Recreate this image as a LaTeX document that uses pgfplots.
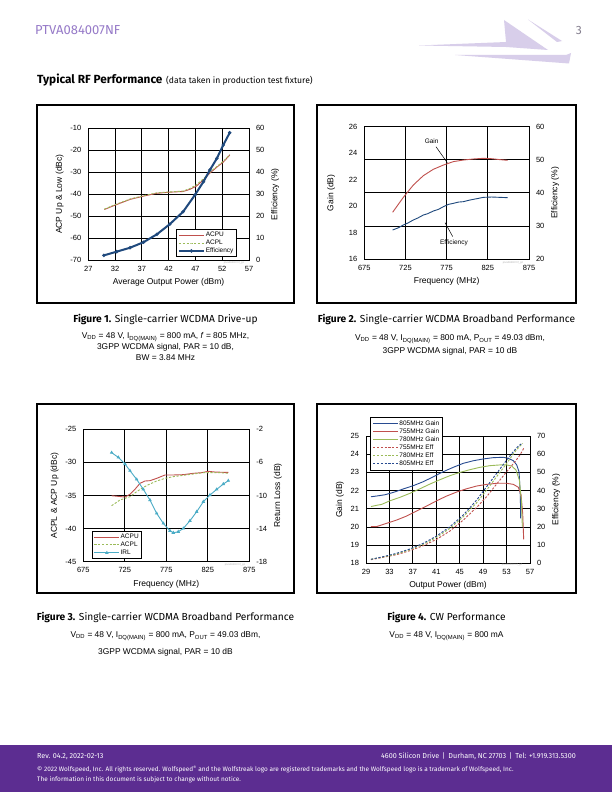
\documentclass[border=0pt]{standalone}
\usepackage{pgfplots}
\pgfplotsset{compat=1.18}
\usepackage{fontspec}
\setmainfont{Fira Sans}
\newfontfamily\arial{Liberation Sans}
\newcommand{\fs}[2]{\fontsize{#1bp}{#2bp}\selectfont}
\definecolor{wsred}{RGB}{192,80,77}
\definecolor{wsgreen}{RGB}{155,187,89}
\definecolor{wsblue}{RGB}{31,73,125}
\definecolor{wsblue2}{RGB}{40,75,145}
\definecolor{wscyan}{RGB}{75,172,198}
\definecolor{wspurple}{RGB}{92,45,145}
\definecolor{wslav}{RGB}{216,206,234}
\definecolor{wshead}{RGB}{150,122,200}
\pgfplotsset{
  ws/.style={
    scale only axis, anchor=north west,
    tick label style={font=\arial\fs{7.5}{9}},
    label style={font=\arial\fs{8.5}{10}},
    axis line style={black, line width=0.8bp},
    major grid style={black, line width=0.8bp},
    major tick length=0pt,
    xticklabel shift=2.5bp, yticklabel shift=3.5bp,
    legend cell align=left,
    legend style={font=\arial\fs{6.5}{7.5}, draw=black, line width=0.5bp, fill=white,
      inner sep=2bp, anchor=north west, row sep=0.3bp,
      nodes={inner sep=0.8bp, text height=4.7bp, text depth=1.3bp}},
    legend image code/.code={\draw[mark repeat=2,mark phase=2,##1] plot coordinates {(0bp,0bp)(12.5bp,0bp)(25bp,0bp)};},
  },
  wsdash/.style={dash pattern=on 2.2bp off 1.6bp},
}
\begin{document}
\begin{tikzpicture}[x=1bp,y=1bp]
\path[use as bounding box] (0,0) rectangle (612,-792);
\fill[white] (0,0) rectangle (612,-792);

% ---------- header ----------
\node[anchor=west, text=wshead, font=\fs{13}{15}, inner sep=0] at (35,-30) {PTVA084007NF};
\node[anchor=east, text=gray!80!wshead, font=\fs{12}{14}, inner sep=0] at (582,-30) {3};
\fill[wslav] (419,-45.5) -- (506,-42) -- (504,-20) -- (548,-50) -- (506,-47) -- cycle;
\fill[wslav] (528,-19.5) -- (562,-41) -- (557,-42) -- cycle;
\fill[wslav] (455,-55) -- (566,-55) -- (571,-53) -- (569,-63.5) -- cycle;
\node[anchor=west, font=\bfseries\fs{11.8}{13}, inner sep=0] at (37,-80) {Typical RF Performance};
\node[anchor=west, font=\fs{8.6}{10}, inner sep=0] at (166,-80.5) {(data taken in production test fixture)};

% ---------- frames ----------
\draw[black, line width=1.1bp] (37,-105) rectangle (294,-303);
\draw[black, line width=1.1bp] (317,-105) rectangle (576,-303);
\draw[black, line width=1.1bp] (37,-404) rectangle (294,-593);
\draw[black, line width=1.1bp] (317,-404) rectangle (576,-593);

% ---------- Chart 1 ----------
\begin{axis}[ws, at={(88.3bp,-128.3bp)}, width=160.7bp, height=131.7bp,
  xmin=27, xmax=57, ymin=-70, ymax=-10,
  xtick={27,32,37,42,47,52,57}, xticklabels={27,32,37,42,47,52,57},
  ytick={-70,-60,-50,-40,-30,-20,-10}, yticklabels={-70,-60,-50,-40,-30,-20,-10},
  grid=major,
  xlabel={Average Output Power (dBm)}, ylabel={ACP Up \& Low (dBc)}]
\addplot[wsred, line width=0.9bp] coordinates {(30,-47)(32,-45)(34.8,-42.4)(37.3,-40.9)(39.8,-39.6)(42.2,-39.1)(44.7,-38.8)(46,-37.8)(47.2,-36.3)(48.5,-33.5)(49.7,-30.4)(51,-27.7)(52.2,-25.4)(53.4,-22.2)};
\addplot[wsgreen, line width=0.9bp, wsdash] coordinates {(30,-46.8)(32,-44.8)(34.8,-42.2)(37.3,-40.7)(39.8,-39.4)(42.2,-39.0)(44.7,-38.6)(46,-37.4)(47.2,-35.7)(48.5,-33.0)(49.7,-30.0)(51,-27.4)(52.2,-25.0)(53.4,-22.0)};
\end{axis}
\begin{axis}[ws, at={(88.3bp,-128.3bp)}, width=160.7bp, height=131.7bp,
  xmin=27, xmax=57, ymin=0, ymax=60, axis y line*=right, axis x line=none,
  ytick={0,10,20,30,40,50,60}, yticklabels={0,10,20,30,40,50,60},
  ylabel={Efficiency (\%)},
  legend style={at={(0.544,0.235)}}]
\addlegendimage{wsred, line width=0.9bp}\addlegendentry{ACPU}
\addlegendimage{wsgreen, line width=0.9bp, wsdash}\addlegendentry{ACPL}
\addplot[wsblue, line width=2bp, mark=*, mark size=0.5bp] coordinates {(29.9,2.1)(32.3,3.8)(34.8,5.6)(37.3,8.1)(39.8,11.7)(42.2,16.3)(44.7,22.0)(46.9,29.6)(48.5,35.7)(49.7,41.0)(51,46.3)(52.2,52.4)(53.4,58.0)};
\addlegendentry{Efficiency}
\end{axis}

% ---------- Chart 2 ----------
\begin{axis}[ws, at={(364.3bp,-126.7bp)}, width=164.7bp, height=132.3bp,
  xmin=675, xmax=875, ymin=16, ymax=26,
  xtick={675,725,775,825,875}, xticklabels={675,725,775,825,875},
  ytick={16,18,20,22,24,26}, yticklabels={16,18,20,22,24,26},
  xmajorgrids=true, ymajorgrids=false,
  extra y ticks={18.5,21,23.5}, extra y tick labels={}, extra y tick style={grid=major},
  xlabel={Frequency (MHz)}, ylabel={Gain (dB)}]
\addplot[wsred, line width=0.9bp] coordinates {(709.4,19.53)(722.4,20.66)(734.5,21.59)(746.7,22.30)(758.8,22.78)(771,23.10)(783.1,23.36)(795.2,23.48)(807.4,23.56)(819.5,23.61)(829.7,23.58)(839.8,23.51)(849.1,23.46)};
\node[font=\arial\fs{6.5}{7.5}] at (axis cs:756.8,24.87) {Gain};
\draw[black, line width=0.5bp] (axis cs:762,24.49) -- (axis cs:775.8,23.28);
\node[font=\arial\fs{6.5}{7.5}] at (axis cs:783.9,17.26) {Efficiency};
\draw[black, line width=0.5bp] (axis cs:773,18.75) -- (axis cs:782.3,17.7);
\end{axis}
\begin{axis}[ws, at={(364.3bp,-126.7bp)}, width=164.7bp, height=132.3bp,
  xmin=675, xmax=875, ymin=20, ymax=60, axis y line*=right, axis x line=none,
  ytick={20,30,40,50,60}, yticklabels={20,30,40,50,60},
  ylabel={Efficiency (\%)}]
\addplot[wsblue, line width=0.9bp] coordinates {(709.4,28.77)(716,29.4)(722.4,30.28)(728,30.9)(734.5,31.79)(740,32.4)(746.7,33.30)(752,33.7)(758.8,34.51)(765,35.0)(771,35.82)(777,36.5)(783.1,36.83)(789,37.2)(795.2,37.33)(801,37.7)(807.4,38.04)(813,38.3)(819.5,38.64)(829.7,38.74)(839.8,38.64)(849.1,38.54)};
\end{axis}

% ---------- Chart 3 ----------
\begin{axis}[ws, at={(83.3bp,-429.3bp)}, width=166bp, height=132.4bp,
  xmin=675, xmax=875, ymin=-45, ymax=-25,
  xtick={675,725,775,825,875}, xticklabels={675,725,775,825,875},
  ytick={-45,-40,-35,-30,-25}, yticklabels={-45,-40,-35,-30,-25},
  grid=major,
  xlabel={Frequency (MHz)}, ylabel={ACPL \& ACP Up (dBc)}]
\addplot[wsred, line width=0.9bp] coordinates {(709.1,-35.03)(717.2,-35.13)(725.2,-35.23)(731.2,-34.82)(737.2,-34.07)(743.3,-33.16)(749.3,-32.81)(755.3,-32.76)(763.4,-32.41)(773.4,-31.90)(783.4,-31.90)(795.5,-31.85)(807.5,-31.65)(817.6,-31.55)(825.6,-31.35)(833.6,-31.45)(843.7,-31.50)(849.7,-31.50)};
\addplot[wsgreen, line width=0.9bp, wsdash] coordinates {(709.1,-36.54)(719.2,-35.68)(731.2,-35.18)(739.3,-34.42)(747.3,-33.77)(755.3,-33.26)(763.4,-32.81)(773.4,-32.41)(783.4,-32.15)(795.5,-31.95)(807.5,-31.75)(819.6,-31.55)(829.6,-31.55)(839.6,-31.55)(849.7,-31.65)};
\end{axis}
\begin{axis}[ws, at={(83.3bp,-429.3bp)}, width=166bp, height=132.4bp,
  xmin=675, xmax=875, ymin=-18, ymax=-2, axis y line*=right, axis x line=none,
  ytick={-18,-14,-10,-6,-2}, yticklabels={-18,-14,-10,-6,-2},
  ylabel={Return Loss (dB)},
  legend style={at={(0.0506,0.232)}}]
\addlegendimage{wsred, line width=0.9bp}\addlegendentry{ACPU}
\addlegendimage{wsgreen, line width=0.9bp, wsdash}\addlegendentry{ACPL}
\addplot[wscyan, line width=0.9bp, mark=triangle*, mark size=1.2bp] coordinates {(709.1,-4.82)(717.2,-5.39)(725.2,-6.19)(731.2,-7.0)(739.3,-8.05)(747.3,-9.26)(755.3,-10.55)(763.4,-12.16)(771.4,-13.37)(779.4,-14.26)(783.4,-14.50)(789.4,-14.38)(795.5,-13.98)(803.5,-13.05)(811.6,-11.96)(819.6,-10.75)(827.6,-9.94)(835.7,-9.26)(843.7,-8.61)(849.7,-8.21)};
\addlegendentry{IRL}
\end{axis}

% ---------- Chart 4 ----------
\begin{axis}[ws, at={(366bp,-436bp)}, width=164bp, height=127.3bp,
  xmin=29, xmax=57, ymin=18, ymax=25,
  xtick={29,33,37,41,45,49,53,57}, xticklabels={29,33,37,41,45,49,53,57},
  ytick={18,19,20,21,22,23,24,25}, yticklabels={18,19,20,21,22,23,24,25},
  grid=major,
  xlabel={Output Power (dBm)}, ylabel={Gain (dB)}]
\addplot[wsblue2, line width=0.9bp] coordinates {(29.85,21.66)(30.82,21.70)(32.24,21.77)(33.67,21.90)(35.37,22.09)(37.08,22.27)(38.79,22.49)(40.50,22.76)(42.20,23.04)(43.91,23.28)(45.62,23.50)(47.33,23.64)(49.03,23.74)(50.74,23.81)(52.45,23.83)(53.30,23.77)(54.16,23.64)(54.73,23.41)(55.12,23.04)(55.18,22.76)(55.35,21.66)(55.41,20.47)};
\addplot[wsred, line width=0.9bp] coordinates {(29.85,20.02)(30.82,20.02)(32.53,20.20)(34.24,20.38)(35.94,20.60)(37.65,20.88)(39.36,21.15)(41.07,21.44)(42.77,21.70)(44.48,21.92)(46.19,22.10)(47.90,22.25)(49.60,22.34)(51.31,22.40)(53.02,22.40)(54.16,22.34)(55.01,22.18)(55.47,21.76)(55.75,20.75)(55.92,19.32)};
\addplot[wsgreen, line width=0.9bp] coordinates {(29.85,21.12)(30.82,21.19)(31.67,21.24)(33.10,21.44)(34.81,21.63)(36.51,21.85)(38.22,22.10)(39.93,22.36)(41.64,22.60)(43.34,22.82)(45.05,23.00)(46.76,23.15)(48.47,23.28)(50.17,23.37)(51.88,23.41)(53.02,23.41)(53.87,23.35)(54.61,23.13)(55.18,22.58)(55.52,21.48)(55.69,20.02)};
\end{axis}
\begin{axis}[ws, at={(366bp,-436bp)}, width=164bp, height=127.3bp,
  xmin=29, xmax=57, ymin=0, ymax=70, axis y line*=right, axis x line=none,
  ytick={0,10,20,30,40,50,60,70}, yticklabels={0,10,20,30,40,50,60,70},
  ylabel={Efficiency (\%)},
  legend style={at={(0.024,1.147)}, inner sep=2.6bp},
  legend image code/.code={\draw[#1] (3bp,0bp) -- (28bp,0bp);}]
\addlegendimage{wsblue2, line width=0.9bp}\addlegendentry{805MHz Gain}
\addlegendimage{wsred, line width=0.9bp}\addlegendentry{755MHz Gain}
\addlegendimage{wsgreen, line width=0.9bp}\addlegendentry{780MHz Gain}
\addplot[wsred, line width=0.9bp, wsdash] coordinates {(29.85,2.0)(31.96,3.3)(34.24,4.76)(36.51,6.96)(38.79,9.71)(41.07,13.19)(43.34,17.78)(45.62,23.82)(47.90,30.79)(49.60,36.65)(51.31,43.61)(53.02,50.39)(54.44,55.89)(55.29,59.56)(55.92,63.22)};
\addlegendentry{755MHz Eff}
\addplot[wsgreen, line width=0.9bp, wsdash] coordinates {(29.85,2.2)(31.96,3.5)(34.24,5.13)(36.51,7.51)(38.79,10.45)(41.07,14.29)(43.34,19.24)(45.62,25.65)(47.90,33.35)(49.60,40.32)(51.31,47.65)(53.02,54.97)(54.44,61.39)(55.29,64.5)(55.75,65.97)};
\addlegendentry{780MHz Eff}
\addplot[wsblue2, line width=0.9bp, wsdash] coordinates {(29.85,2.2)(31.96,3.67)(34.24,5.50)(36.51,7.88)(38.79,11.0)(41.07,15.03)(43.34,20.16)(45.62,26.57)(47.90,34.82)(49.60,42.15)(51.31,49.48)(53.02,56.81)(54.16,61.39)(55.01,64.5)(55.64,65.97)};
\addlegendentry{805MHz Eff}
\end{axis}

% ---------- tiny watermarks ----------
\node[text=gray!60, font=\arial\fs{2.6}{3}, inner sep=0] at (234,-263) {ptva084007nf\_g1};
\node[text=gray!60, font=\arial\fs{2.6}{3}, inner sep=0] at (513,-263) {ptva084007nf\_g2};
\node[text=gray!60, font=\arial\fs{2.6}{3}, inner sep=0] at (235,-564.5) {ptva084007nf\_g3};
\node[text=gray!60, font=\arial\fs{2.6}{3}, inner sep=0] at (512,-564.5) {ptva084007nf\_g4};

% ---------- captions ----------
\node[font=\fs{10.2}{12}] at (165.5,-319) {\textbf{Figure 1.} Single-carrier WCDMA Drive-up};
\node[font=\arial\fs{8.4}{9}] at (165.5,-337) {V\textsubscript{DD} = 48 V, I\textsubscript{DQ(MAIN)} = 800 mA, \textit{f} = 805 MHz,};
\node[font=\arial\fs{8.4}{9}] at (165.5,-347.5) {3GPP WCDMA signal, PAR = 10 dB,};
\node[font=\arial\fs{8.4}{9}] at (165.5,-358) {BW = 3.84 MHz};

\node[font=\fs{10.2}{12}] at (446.5,-319) {\textbf{Figure 2.} Single-carrier WCDMA Broadband Performance};
\node[font=\arial\fs{8.4}{9}] at (450,-339) {V\textsubscript{DD} = 48 V, I\textsubscript{DQ(MAIN)} = 800 mA, P\textsubscript{OUT} = 49.03 dBm,};
\node[font=\arial\fs{8.4}{9}] at (450,-351) {3GPP WCDMA signal, PAR = 10 dB};

\node[font=\fs{10.2}{12}] at (165.5,-617) {\textbf{Figure 3.} Single-carrier WCDMA Broadband Performance};
\node[font=\arial\fs{8.4}{9}] at (165.5,-636) {V\textsubscript{DD} = 48 V, I\textsubscript{DQ(MAIN)} = 800 mA, P\textsubscript{OUT} = 49.03 dBm,};
\node[font=\arial\fs{8.4}{9}] at (165.5,-652) {3GPP WCDMA signal, PAR = 10 dB};

\node[font=\fs{10.2}{12}] at (446.5,-617) {\textbf{Figure 4.} CW Performance};
\node[font=\arial\fs{8.4}{9}] at (446.5,-636) {V\textsubscript{DD} = 48 V, I\textsubscript{DQ(MAIN)} = 800 mA};

% ---------- footer ----------
\fill[wspurple] (0,-745) rectangle (612,-792);
\node[anchor=west, text=white, font=\fs{7.2}{8}, inner sep=0] at (37,-756.5) {Rev. 04.2, 2022-02-13};
\node[anchor=east, text=white, font=\fs{7.2}{8}, inner sep=0] at (576,-756.5) {4600 Silicon Drive \,|\, Durham, NC 27703 \,|\, Tel: +1.919.313.5300};
\node[anchor=west, text=white, font=\fs{6.45}{7}, inner sep=0] at (37,-769.5) {© 2022 Wolfspeed, Inc. All rights reserved. Wolfspeed\textsuperscript{®} and the Wolfstreak logo are registered trademarks and the Wolfspeed logo is a trademark of Wolfspeed, Inc.};
\node[anchor=west, text=white, font=\fs{6.45}{7}, inner sep=0] at (37,-779.5) {The information in this document is subject to change without notice.};
\end{tikzpicture}
\end{document}
